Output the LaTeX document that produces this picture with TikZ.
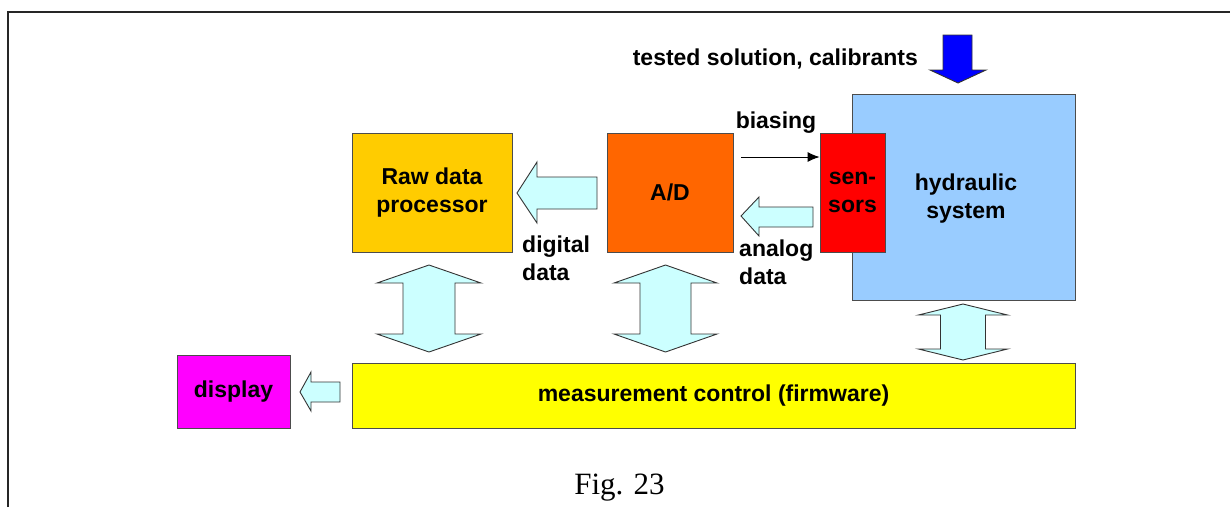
\documentclass[tikz,border=0pt]{standalone}
\usepackage{fontspec}
\setmainfont{Liberation Sans}
\newfontfamily\figfont{Liberation Serif}
\usepackage{tikz}
\usetikzlibrary{arrows.meta,positioning}
\usepackage{xcolor}
\definecolor{rawcol}{HTML}{FFCC00}
\definecolor{adcol}{HTML}{FF6600}
\definecolor{hydcol}{HTML}{99CCFF}
\definecolor{ctrlcol}{HTML}{FFFF00}
\definecolor{dispcol}{HTML}{FF00FF}
\definecolor{flowcol}{HTML}{CCFFFF}

\begin{document}
\begin{tikzpicture}[x=1pt,y=-1pt,
  blk/.style={draw=black!70,line width=0.9pt,inner sep=0pt,align=center,
    font=\bfseries\fontsize{23}{28}\selectfont},
  lbl/.style={inner sep=0pt,align=left,font=\bfseries\fontsize{23}{28}\selectfont},
  flow/.style={draw=black!80,line width=0.9pt,fill=flowcol,line join=miter},
  bias/.style={-{Latex[length=12pt,width=10pt]},line width=0.9pt}
]
\useasboundingbox (0,0) rectangle (1230,507);
% frame
\draw[line width=2pt,black!85] (7.5,507) -- (7.5,11.5) -- (1230,11.5);
% blocks
\node[blk,fill=rawcol,minimum width=160,minimum height=119] (raw) at (432,192.5)
  {Raw data\\processor};
\node[blk,fill=adcol,minimum width=126,minimum height=119] (ad) at (670,192.5) {A/D};
\node[blk,fill=hydcol,minimum width=223,minimum height=206] (hyd) at (963.5,197) {};
\node[lbl,align=center] (hydtxt) at (966,199) {hydraulic\\system};
\node[blk,fill=red,minimum width=65,minimum height=119] (sens) at (852.5,192.5)
  {sen-\\sors};
\node[blk,fill=ctrlcol,minimum width=723,minimum height=65] (ctrl) at (713.5,395.5)
  {measurement control (firmware)};
\node[blk,fill=dispcol,minimum width=113,minimum height=73] (disp) at (233.5,391.5)
  {display};
% labels
\node[lbl,anchor=east] (feed) at (918,59) {tested solution, calibrants};
\node[lbl] (biastxt) at (776,123) {biasing};
\node[lbl,anchor=west] (digtxt) at (522,258) {digital\\data};
\node[lbl,anchor=west] (anatxt) at (739,262) {analog\\data};
\node[inner sep=0pt,font=\figfont\fontsize{31}{36}\selectfont] (fig) at (619.5,488) {Fig. 23};
% input arrow
\draw[draw=black!80,line width=0.9pt,fill=blue] (943,35) -- (972,35) -- (972,70) -- (986,70)
  -- (958,83) -- (930,70) -- (943,70) -- cycle;
% biasing
\coordinate (bstart) at (741,157);
\draw[bias] (bstart) -- (sens.west |- bstart);
% data flows
\draw[flow] (597,177) -- (537,177) -- (537,162) -- (517,193) -- (537,223) -- (537,209)
  -- (597,209) -- cycle;
\draw[flow] (813,207) -- (759,207) -- (759,197) -- (741,216) -- (759,236) -- (759,227)
  -- (813,227) -- cycle;
\draw[flow] (340,382) -- (311,382) -- (311,372) -- (300,392) -- (311,411) -- (311,402)
  -- (340,402) -- cycle;
% control links
\draw[flow] (429,265) -- (481,283) -- (455,283) -- (455,334) -- (481,334) -- (429,352)
  -- (377,334) -- (403,334) -- (403,283) -- (377,283) -- cycle;
\draw[flow] (665.5,265) -- (717,283) -- (691,283) -- (691,334) -- (717,334) -- (665.5,352)
  -- (614,334) -- (640,334) -- (640,283) -- (614,283) -- cycle;
\draw[flow] (963,304) -- (1007.5,315) -- (985.5,315) -- (985.5,349) -- (1007.5,349)
  -- (963,360) -- (918.5,349) -- (940.5,349) -- (940.5,315) -- (918.5,315) -- cycle;
\end{tikzpicture}
\end{document}
